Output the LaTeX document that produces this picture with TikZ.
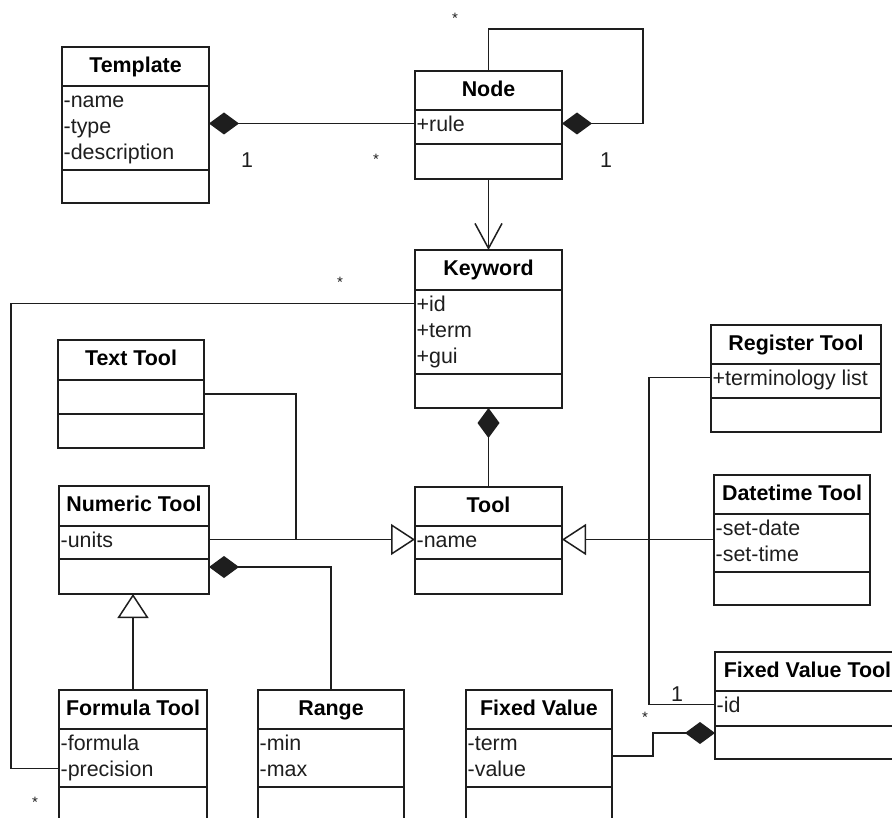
\documentclass[tikz,border=0pt]{standalone}
\usepackage{fontspec}
\setmainfont{Liberation Sans}
\usetikzlibrary{arrows.meta}
\definecolor{ink}{HTML}{1E1E1E}
\newcommand\umlfont{\fontsize{21.4}{26}\selectfont}
\tikzset{
  umlbox/.style={draw=ink, line width=1.5pt, inner sep=0pt, outer sep=0pt},
  umlline/.style={draw=ink, line width=1.5pt},
  umltitle/.style={font=\umlfont\bfseries, text=black, anchor=base, inner sep=0pt},
  umlattr/.style={font=\umlfont, text=ink, anchor=base west, inner sep=0pt, text height=16pt, text depth=0pt},
  mult/.style={font=\umlfont, text=ink, anchor=base, inner sep=0pt},
  star/.style={font=\fontsize{15}{18}\selectfont, text=ink, anchor=base, inner sep=0pt},
  conn/.style={draw=ink, line width=1.5pt},
  diam/.tip={Diamond[length=30pt,width=22pt]},
  gen/.tip={Triangle[open,length=24pt,width=31pt]},
  nav/.tip={Straight Barb[length=25pt,width=27pt]},
}
\newcommand\umlclass[9]{%
  \node[umlbox, minimum width={(#4-#2)*1pt}, minimum height={(#5-#3)*1pt}, anchor=north west] (#1) at (#2,#3) {};
  \draw[umlline] (#2,#6) -- (#4,#6);
  \draw[umlline] (#2,#7) -- (#4,#7);
  \node[umltitle] (#1-t) at ({(#2+#4)/2},{#3+25.5}) {#8};
  \if\relax\detokenize{#9}\relax\else
  \foreach \a [count=\i] in {#9} {\node[umlattr] (#1-\i) at ({#2+1.5},{#6+21.5+26*(\i-1)}) {\a};}%
  \fi
}
\begin{document}
\begin{tikzpicture}[x=1pt, y=-1pt, font=\umlfont]
\useasboundingbox (0,0) rectangle (892,818);
\clip (0,0) rectangle (892,818);
\fill[white] (0,0) rectangle (892,818);

% classes
\umlclass{tmpl}{62}{47}{209}{203}{86}{170}{Template}{-name,-type,-description}
\umlclass{nd}{415}{71}{562}{179}{110}{144}{Node}{+rule}
\umlclass{kw}{415}{250}{562}{408}{290}{374}{Keyword}{+id,+term,+gui}
\umlclass{txt}{58}{340}{204}{448}{380}{414}{Text Tool}{}
\umlclass{reg}{711}{325}{881}{432}{364}{398}{Register Tool}{+terminology list}
\umlclass{num}{59}{486}{209}{594}{526}{559}{Numeric Tool}{-units}
\umlclass{tool}{415}{487}{562}{594}{526}{559}{Tool}{-name}
\umlclass{dt}{714}{475}{870}{605}{514}{572}{Datetime Tool}{-set-date,-set-time}
\umlclass{fvt}{715}{652}{900}{759}{691}{726}{Fixed Value Tool}{-id}
\umlclass{form}{59}{690}{207}{850}{729}{787}{Formula Tool}{-formula,-precision}
\umlclass{rng}{258}{690}{404}{850}{729}{787}{Range}{-min,-max}
\umlclass{fv}{466}{690}{612}{850}{729}{787}{Fixed Value}{-term,-value}

% bend points
\coordinate (loopTR) at (643,29);
\coordinate (lb) at (11,500);
\coordinate (tb) at (296,394);
\coordinate (rngbend) at (331,567);
\coordinate (rb) at (649,500);
\coordinate (fvb) at (653,756);
\coordinate (fvd) at (653,733);

% connectors
\draw[conn, -{diam}] (nd.west |- nd-1) -- (tmpl.east |- nd-1);
\draw[conn, -{diam}] (nd.north) |- (loopTR) |- (nd.east |- nd-1);
\draw[conn, -{nav}] (nd.south) -- (kw.north);
\draw[conn, {diam}-] (kw.south) -- (tool.north);
\draw[conn] (kw.west |- kw-1) -| (lb) |- (form.west |- form-2);
\draw[conn] (txt.east |- tb) -- (tb) -- (tb |- tool-1);
\draw[conn, -{gen}] (num.east |- tool-1) -- (tool.west |- tool-1);
\draw[conn, {diam}-] (num.east |- rngbend) -| (rng.north);
\draw[conn, -{gen}] (form.north) -- (form.north |- num.south);
\draw[conn, -{gen}] (dt.west |- tool-1) -- (tool.east |- tool-1);
\draw[conn] (reg.west |- reg-1) -| (rb) |- (fvt.west |- fvt-1);
\draw[conn, -{diam}] (fv.east |- fvb) -- (fvb) -- (fvd) -- (fvt.west |- fvd);

% multiplicities
\node[mult] (m1) at (247,168) {1};
\node[star] (m2) at (376,165) {*};
\node[star] (m3) at (455,24) {*};
\node[mult] (m4) at (606,168) {1};
\node[star] (m5) at (340,288) {*};
\node[star] (m6) at (35,807) {*};
\node[mult] (m7) at (677,701) {1};
\node[star] (m8) at (645,722) {*};
\end{tikzpicture}
\end{document}
